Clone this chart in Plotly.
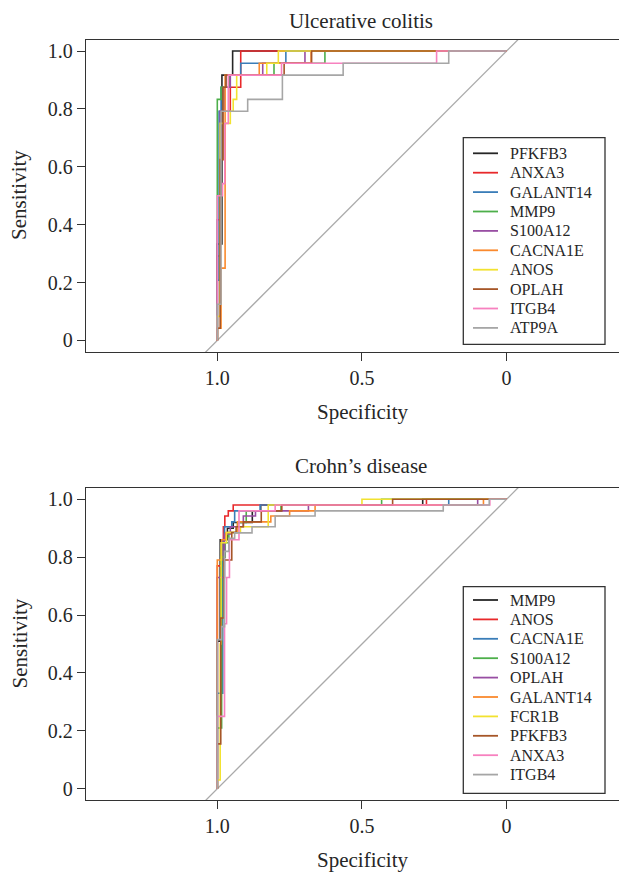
import plotly.graph_objects as go

FONT = "Liberation Serif"

# ---------------- Ulcerative colitis (UC) ----------------
UC_MARKERS = ["PFKFB3", "ANXA3", "GALANT14", "MMP9", "S100A12",
              "CACNA1E", "ANOS", "OPLAH", "ITGB4", "ATP9A"]

UC_PFKFB3_SPEC = [1.0, 0.984, 0.947, 0.0]
UC_PFKFB3_SENS = [0.0, 0.333, 0.917, 1.0]
UC_ANXA3_SPEC = [1.0, 0.99, 0.955, 0.919, 0.0]
UC_ANXA3_SENS = [0.0, 0.292, 0.792, 0.875, 1.0]
UC_GALANT14_SPEC = [1.0, 0.994, 0.987, 0.97, 0.919, 0.763, 0.0]
UC_GALANT14_SENS = [0.0, 0.208, 0.792, 0.875, 0.917, 0.958, 1.0]
UC_MMP9_SPEC = [1.0, 0.987, 0.958, 0.804, 0.628, 0.0]
UC_MMP9_SENS = [0.0, 0.833, 0.875, 0.917, 0.958, 1.0]
UC_S100A12_SPEC = [1.0, 0.99, 0.975, 0.955, 0.843, 0.697, 0.0]
UC_S100A12_SENS = [0.0, 0.417, 0.792, 0.875, 0.917, 0.958, 1.0]
UC_CACNA1E_SPEC = [1.0, 0.987, 0.973, 0.855, 0.676, 0.0]
UC_CACNA1E_SENS = [0.0, 0.042, 0.25, 0.917, 0.958, 1.0]
UC_ANOS_SPEC = [1.0, 0.99, 0.955, 0.945, 0.933, 0.829, 0.789, 0.0]
UC_ANOS_SENS = [0.0, 0.083, 0.75, 0.792, 0.833, 0.917, 0.958, 1.0]
UC_OPLAH_SPEC = [1.0, 0.99, 0.98, 0.97, 0.769, 0.674, 0.0]
UC_OPLAH_SENS = [0.0, 0.042, 0.625, 0.875, 0.917, 0.958, 1.0]
UC_ITGB4_SPEC = [1.0, 0.982, 0.974, 0.962, 0.778, 0.242, 0.0]
UC_ITGB4_SENS = [0.0, 0.5, 0.542, 0.75, 0.917, 0.958, 1.0]
UC_ATP9A_SPEC = [1.0, 0.987, 0.895, 0.775, 0.565, 0.2, 0.0]
UC_ATP9A_SENS = [0.0, 0.125, 0.792, 0.833, 0.917, 0.958, 1.0]

UC_CURVES = [
    (UC_PFKFB3_SPEC, UC_PFKFB3_SENS), (UC_ANXA3_SPEC, UC_ANXA3_SENS),
    (UC_GALANT14_SPEC, UC_GALANT14_SENS), (UC_MMP9_SPEC, UC_MMP9_SENS),
    (UC_S100A12_SPEC, UC_S100A12_SENS), (UC_CACNA1E_SPEC, UC_CACNA1E_SENS),
    (UC_ANOS_SPEC, UC_ANOS_SENS), (UC_OPLAH_SPEC, UC_OPLAH_SENS),
    (UC_ITGB4_SPEC, UC_ITGB4_SENS), (UC_ATP9A_SPEC, UC_ATP9A_SENS),
]

# ---------------- Crohn's disease (CD) ----------------
CD_MARKERS = ["MMP9", "ANOS", "CACNA1E", "S100A12", "OPLAH",
              "GALANT14", "FCR1B", "PFKFB3", "ANXA3", "ITGB4"]

CD_MMP9_SPEC = [1.0, 0.99, 0.965, 0.945, 0.879, 0.85, 0.29, 0.0]
CD_MMP9_SENS = [0.0, 0.51, 0.86, 0.90, 0.92, 0.96, 0.98, 1.0]
CD_ANOS_SPEC = [1.0, 0.979, 0.974, 0.962, 0.945, 0.277, 0.0]
CD_ANOS_SENS = [0.0, 0.77, 0.905, 0.942, 0.96, 0.98, 1.0]
CD_CACNA1E_SPEC = [1.0, 0.981, 0.975, 0.95, 0.94, 0.852, 0.2, 0.0]
CD_CACNA1E_SENS = [0.0, 0.33, 0.86, 0.905, 0.922, 0.96, 0.98, 1.0]
CD_S100A12_SPEC = [1.0, 0.985, 0.973, 0.96, 0.93, 0.9, 0.78, 0.432, 0.0]
CD_S100A12_SENS = [0.0, 0.21, 0.80, 0.85, 0.885, 0.92, 0.96, 0.98, 1.0]
CD_OPLAH_SPEC = [1.0, 0.975, 0.955, 0.91, 0.868, 0.685, 0.1, 0.0]
CD_OPLAH_SENS = [0.0, 0.73, 0.88, 0.905, 0.942, 0.96, 0.98, 1.0]
CD_GALANT14_SPEC = [1.0, 0.985, 0.97, 0.93, 0.815, 0.75, 0.662, 0.08, 0.0]
CD_GALANT14_SENS = [0.0, 0.79, 0.86, 0.885, 0.922, 0.942, 0.96, 0.98, 1.0]
CD_FCR1B_SPEC = [1.0, 0.99, 0.987, 0.968, 0.92, 0.824, 0.5, 0.0]
CD_FCR1B_SENS = [0.0, 0.03, 0.5, 0.85, 0.885, 0.905, 0.98, 1.0]
CD_PFKFB3_SPEC = [1.0, 0.988, 0.977, 0.95, 0.935, 0.91, 0.848, 0.777, 0.394, 0.0]
CD_PFKFB3_SENS = [0.0, 0.155, 0.59, 0.79, 0.885, 0.905, 0.922, 0.96, 0.98, 1.0]
CD_ANXA3_SPEC = [1.0, 0.975, 0.968, 0.958, 0.925, 0.8, 0.058, 0.0]
CD_ANXA3_SENS = [0.0, 0.25, 0.57, 0.73, 0.86, 0.96, 0.98, 1.0]
CD_ITGB4_SPEC = [1.0, 0.985, 0.975, 0.96, 0.94, 0.88, 0.8, 0.662, 0.219, 0.06, 0.0]
CD_ITGB4_SENS = [0.0, 0.515, 0.56, 0.82, 0.865, 0.884, 0.905, 0.942, 0.96, 0.98, 1.0]

CD_CURVES = [
    (CD_MMP9_SPEC, CD_MMP9_SENS), (CD_ANOS_SPEC, CD_ANOS_SENS),
    (CD_CACNA1E_SPEC, CD_CACNA1E_SENS), (CD_S100A12_SPEC, CD_S100A12_SENS),
    (CD_OPLAH_SPEC, CD_OPLAH_SENS), (CD_GALANT14_SPEC, CD_GALANT14_SENS),
    (CD_FCR1B_SPEC, CD_FCR1B_SENS), (CD_PFKFB3_SPEC, CD_PFKFB3_SENS),
    (CD_ANXA3_SPEC, CD_ANXA3_SENS), (CD_ITGB4_SPEC, CD_ITGB4_SENS),
]

PALETTE = ["#262626", "#E8292B", "#3A7DB8", "#4DAF4A", "#984EA3",
           "#FA8A2E", "#F2E230", "#A65628", "#F781BF", "#A6A6A6"]

X_TICKS = [1.0, 0.5, 0.0]
X_TICKTEXT = ["1.0", "0.5", "0"]
Y_TICKS = [0, 0.2, 0.4, 0.6, 0.8, 1.0]
Y_TICKTEXT = ["0", "0.2", "0.4", "0.6", "0.8", "1.0"]

# page body has an 8px margin: figure is offset by (8, 8)
OFF = 8
W, H = 627 - OFF, 872 - OFF
L = 86 - OFF
PW = W - L
TXT = "#262626"


def px_x(px):
    return (px - OFF - L) / PW


def px_y(py):
    return 1 - (py - OFF) / H


fig = go.Figure()


def add_panel(curves, names, xa, ya):
    fig.add_trace(go.Scatter(x=[1.3, -0.3], y=[-0.3, 1.3], mode="lines",
                             line=dict(color="#AAAAAA", width=1.3),
                             showlegend=False, hoverinfo="skip",
                             xaxis=xa, yaxis=ya))
    for (spec, sens), name, color in zip(curves, names, PALETTE):
        fig.add_trace(go.Scatter(x=spec, y=sens, mode="lines", name=name,
                                 line=dict(color=color, width=1.6, shape="vh"),
                                 xaxis=xa, yaxis=ya, showlegend=False))


add_panel(UC_CURVES, UC_MARKERS, "x", "y")
add_panel(CD_CURVES, CD_MARKERS, "x2", "y2")

axis_style = dict(showline=True, linecolor="#333333", linewidth=1.3,
                  ticks="outside", ticklen=8, tickwidth=1.3, tickcolor="#333333",
                  showgrid=False, zeroline=False,
                  tickfont=dict(family=FONT, size=20, color=TXT))

x_range = [1 + (217.3 - 86) / 289.3, 1 - (627 - 217.3) / 289.3]

fig.update_layout(
    width=W, height=H, plot_bgcolor="white", paper_bgcolor="white",
    margin=dict(l=L, r=0, t=0, b=0),
    showlegend=False,
    xaxis=dict(domain=[0, 1], range=x_range, tickvals=X_TICKS, ticktext=X_TICKTEXT,
               mirror=True, anchor="y", **axis_style),
    yaxis=dict(domain=[px_y(352), px_y(39.5)], range=[-0.04, 1.04], tickvals=Y_TICKS,
               ticktext=Y_TICKTEXT, anchor="x", **axis_style),
    xaxis2=dict(domain=[0, 1], range=x_range, tickvals=X_TICKS, ticktext=X_TICKTEXT,
                mirror=True, anchor="y2", **axis_style),
    yaxis2=dict(domain=[px_y(800.3), px_y(487.7)], range=[-0.04, 1.04], tickvals=Y_TICKS,
                ticktext=Y_TICKTEXT, anchor="x2", **axis_style),
)

ann_font = dict(family=FONT, size=21, color=TXT)
annotations = [
    dict(text="Ulcerative colitis", x=px_x(361), y=1.0, yanchor="top"),
    dict(text="Sensitivity", x=px_x(19), y=px_y(195), textangle=-90),
    dict(text="Specificity", x=px_x(362), y=px_y(412)),
    dict(text="Crohn’s disease", x=px_x(361), y=px_y(466)),
    dict(text="Sensitivity", x=px_x(19), y=px_y(643.5), textangle=-90),
    dict(text="Specificity", x=px_x(362), y=px_y(860)),
]
for a in annotations:
    a.setdefault("yanchor", "middle")
    a.update(xref="paper", yref="paper", xanchor="center", borderpad=0,
             showarrow=False, font=ann_font)

# ---- legends (box, line samples, labels) ----
shapes = []
ROW = 19.4


def add_legend(names, box_top, first_row, box_bottom):
    shapes.append(dict(type="rect", xref="paper", yref="paper",
                       x0=px_x(463.3), x1=px_x(605), y0=px_y(box_bottom), y1=px_y(box_top),
                       line=dict(color="#333333", width=1.3), fillcolor="white",
                       layer="above"))
    for i, (name, color) in enumerate(zip(names, PALETTE)):
        yc = first_row + ROW * i
        shapes.append(dict(type="line", xref="paper", yref="paper",
                           x0=px_x(473), x1=px_x(498), y0=px_y(yc), y1=px_y(yc),
                           line=dict(color=color, width=1.8), layer="above"))
        annotations.append(dict(text=name, xref="paper", yref="paper",
                                x=px_x(508), y=px_y(yc), xanchor="left", yanchor="middle",
                                showarrow=False,
                                font=dict(family=FONT, size=16, color=TXT)))


add_legend(UC_MARKERS, 137.7, 153.3, 344.3)
add_legend(CD_MARKERS, 586.7, 600.0, 793.3)

fig.update_layout(annotations=annotations, shapes=shapes)

fig.write_html("out.html")
